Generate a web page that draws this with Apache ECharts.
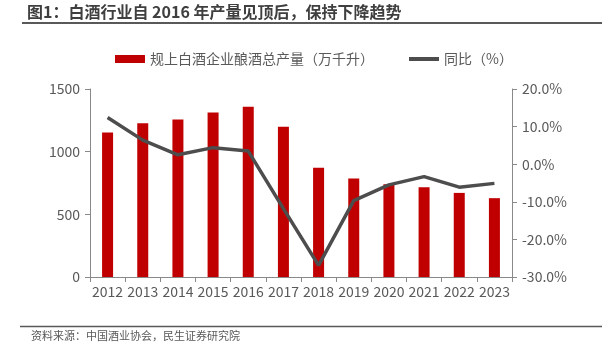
<!DOCTYPE html>
<html><head><meta charset="utf-8">
<script src="https://cdn.jsdelivr.net/npm/echarts@6/dist/echarts.min.js"></script>
<style>html,body{margin:0;padding:0;background:#fff}#c{width:602px;height:355px}</style>
</head><body><div id="c"></div>
<script>
const years = ['2012','2013','2014','2015','2016','2017','2018','2019','2020','2021','2022','2023'];
const output = [1153,1226,1257,1313,1358,1198,871,786,741,716,671,629];
const yoy = [12.4,6.4,2.5,4.4,3.5,-11.8,-26.9,-9.7,-5.5,-3.3,-6.1,-5.1];
const leftTicks = {min:0,max:1500,interval:500};
const rightTicks = {min:-30,max:20,interval:10};
const nameBar = '规上白酒企业酿酒总产量（万千升）';
const nameLine = '同比（%）';
const font = '"Noto Sans CJK SC","Microsoft YaHei",sans-serif';
const chart = echarts.init(document.getElementById('c'));
chart.setOption({
  animation:false,
  textStyle:{fontFamily:font},
  graphic:[
    {type:'text',left:27,top:4,style:{text:'图1：白酒行业自 2016 年产量见顶后，保持下降趋势',font:'bold 16px '+font,fill:'#3f3f3f'}},
    {type:'line',shape:{x1:22,y1:23,x2:602,y2:23},style:{stroke:'#595959',lineWidth:2}},
    {type:'line',shape:{x1:20,y1:326.5,x2:602,y2:326.5},style:{stroke:'#595959',lineWidth:1.5}},
    {type:'text',left:31,top:330,style:{text:'资料来源：中国酒业协会，民生证券研究院',font:'11px '+font,fill:'#595959'}}
  ],
  legend:[
    {left:110,top:47,itemWidth:30,itemHeight:8,
      textStyle:{fontSize:14,color:'#595959',fontFamily:font},
      data:[{name:nameBar,icon:'rect'}]},
    {left:404,top:47,itemWidth:30,itemHeight:4,itemGap:4,
      textStyle:{fontSize:14,color:'#595959',fontFamily:font},
      data:[{name:nameLine,icon:'rect'}]}
  ],
  grid:{left:90,right:90,top:89,bottom:78,containLabel:false},
  xAxis:{type:'category',data:years,boundaryGap:true,
    axisLine:{lineStyle:{color:'#898989',width:1}},
    axisTick:{show:true,inside:false,length:5,alignWithLabel:false,lineStyle:{color:'#898989'}},
    axisLabel:{interval:0,fontSize:14,color:'#595959',margin:8,fontFamily:font}},
  yAxis:[
    {type:'value',min:leftTicks.min,max:leftTicks.max,interval:leftTicks.interval,
      splitLine:{show:false},
      axisLine:{show:true,lineStyle:{color:'#898989'}},
      axisTick:{show:true,length:5,lineStyle:{color:'#898989'}},
      axisLabel:{fontSize:14,color:'#595959',margin:10,fontFamily:font,formatter:v=>String(v)}},
    {type:'value',min:rightTicks.min,max:rightTicks.max,interval:rightTicks.interval,
      splitLine:{show:false},
      axisLine:{show:true,lineStyle:{color:'#898989'}},
      axisTick:{show:true,length:5,lineStyle:{color:'#898989'}},
      axisLabel:{fontSize:14,color:'#595959',margin:10,fontFamily:font,
        formatter:v=>v.toFixed(1)+'%'}}
  ],
  series:[
    {name:nameBar,type:'bar',data:output,barWidth:11,yAxisIndex:0,
      itemStyle:{color:'#C00000'}},
    {name:nameLine,type:'line',data:yoy,yAxisIndex:1,symbol:'none',
      lineStyle:{color:'#4d4d4d',width:3.5},itemStyle:{color:'#4d4d4d'}}
  ]
});
</script></body></html>
